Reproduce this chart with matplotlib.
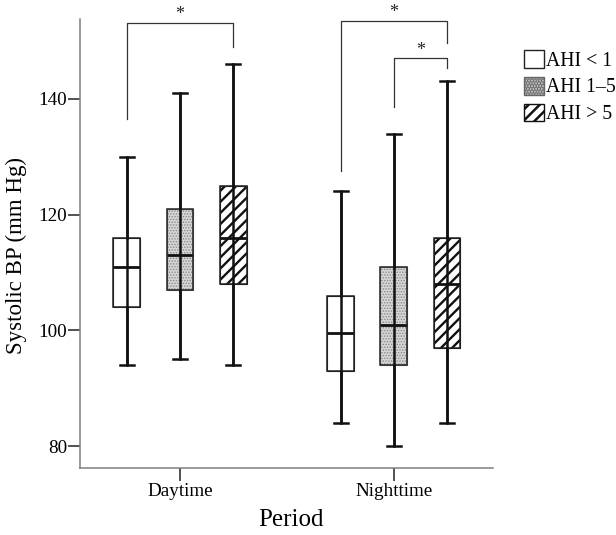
import matplotlib
matplotlib.use('Agg')
import matplotlib.pyplot as plt
from matplotlib.patches import Patch, PathPatch

# DATA
periods = ['Daytime', 'Nighttime']
groups = ['AHI < 1', 'AHI 1\u20135', 'AHI > 5']

day_lo = [94, 95, 94]
day_q1 = [104, 107, 108]
day_med = [111, 113, 116]
day_q3 = [116, 121, 125]
day_hi = [130, 141, 146]

night_lo = [84, 80, 84]
night_q1 = [93, 94, 97]
night_med = [99.5, 101, 108]
night_q3 = [106, 111, 116]
night_hi = [124, 134, 143]

# significance brackets: period, group a, group b, top, left leg end, right leg end
brackets = [(0, 0, 2, 153.1, 136.5, 149.0),
            (1, 0, 2, 153.5, 127.6, 149.6),
            (1, 1, 2, 147.0, 138.6, 145.3)]

plt.rcParams['font.family'] = ['Liberation Serif', 'DejaVu Serif']
plt.rcParams['hatch.linewidth'] = 1.8

offsets = [-0.248, 0.0, 0.248]
box_w = 0.126
faces = ['white', '#d6d6d6', 'white']
hatches = [None, '......', '///']
hatch_edge = ['#222222', '#888888', '#111111']
hatch_lw = [1.0, 0.7, 1.7]


def make_stats(lo, q1, med, q3, hi):
    return [dict(whislo=lo[i], q1=q1[i], med=med[i], q3=q3[i], whishi=hi[i], fliers=[])
            for i in range(len(groups))]


def style_patch(p, i):
    p.set_facecolor(faces[i])
    p.set_edgecolor(hatch_edge[i])
    if hatches[i]:
        p.set_hatch(hatches[i])
        try:
            p.set_hatch_linewidth(hatch_lw[i])
        except AttributeError:
            pass


fig = plt.figure(figsize=(6.16, 5.35), dpi=100)
ax = fig.add_axes([0.13, 0.1252, 0.6703, 0.8393])

all_stats = [make_stats(day_lo, day_q1, day_med, day_q3, day_hi),
             make_stats(night_lo, night_q1, night_med, night_q3, night_hi)]

for p, stats in enumerate(all_stats):
    pos = [p + o for o in offsets]
    res = ax.bxp(stats, positions=pos, widths=box_w, capwidths=0.062,
                 patch_artist=True, showfliers=False,
                 boxprops=dict(linewidth=0.8),
                 medianprops=dict(color='#111111', linewidth=2.0),
                 whiskerprops=dict(color='#111111', linewidth=1.8),
                 capprops=dict(color='#111111', linewidth=1.8))
    for i, box in enumerate(res['boxes']):
        style_patch(box, i)
        # dark outline drawn over the hatch
        ax.add_patch(PathPatch(box.get_path(), transform=box.get_transform(),
                               facecolor='none', edgecolor='#222222', lw=1.1,
                               zorder=box.get_zorder() + 0.1))
    # whisker line runs through the box
    ax.vlines(pos, [s['whislo'] for s in stats], [s['whishi'] for s in stats],
              color='#111111', linewidth=1.8, zorder=3)

for p, a, b, top, la, lb in brackets:
    xa = p + offsets[a]
    xb = p + offsets[b]
    ax.plot([xa, xa, xb, xb], [la, top, top, lb], color='#333333', lw=0.9,
            clip_on=False)
    ax.text((xa + xb) / 2, top + 1.4, '*', ha='center', va='center',
            fontsize=13, color='#222222')

ax.set_xlim(-0.467, 1.463)
ax.set_ylim(76.2, 153.8)
ax.set_xticks(range(len(periods)))
ax.set_xticklabels(periods)
ax.set_yticks([80, 100, 120, 140])
ax.tick_params(axis='both', labelsize=13.8, length=9, width=1.1, color='#222222')
ax.tick_params(axis='y', pad=0.5)
ax.tick_params(axis='x', pad=2)

for s in ['top', 'right']:
    ax.spines[s].set_visible(False)
for s in ['left', 'bottom']:
    ax.spines[s].set_color('#7f7f7f')
    ax.spines[s].set_linewidth(1.1)

ax.set_ylabel('Systolic BP (mm Hg)', fontsize=16.5)
ax.yaxis.set_label_coords(-0.128, 0.474)
ax.set_xlabel('Period', fontsize=18, va='top')
ax.xaxis.set_label_coords(0.511, -0.092)

handles = []
for i in range(len(groups)):
    h = Patch(linewidth=1.0)
    style_patch(h, i)
    if hatches[i] == '......':
        h.set_edgecolor('#666666')
    handles.append(h)
fig.legend(handles, groups, loc='upper left', bbox_to_anchor=(524 / 616, 1 - 50 / 535),
           frameon=False, fontsize=14.2, handlelength=1.03, handleheight=1.0,
           handletextpad=0.1, labelspacing=0.32, borderpad=0, borderaxespad=0)

fig.savefig('out.png', dpi=100)
